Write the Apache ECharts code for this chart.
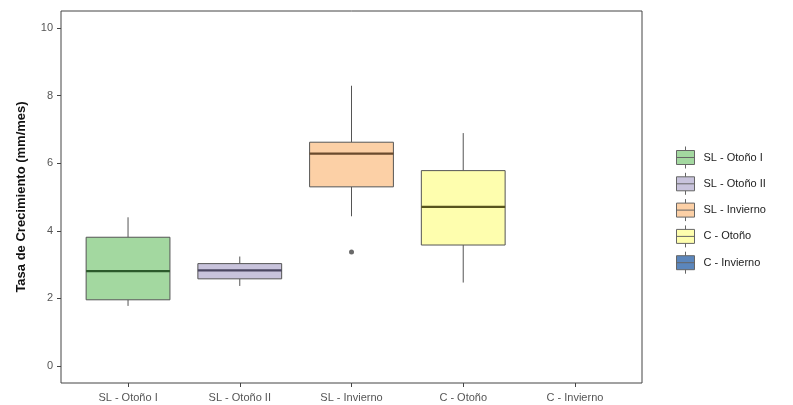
<!DOCTYPE html>
<html><head><meta charset="utf-8">
<script src="https://cdn.jsdelivr.net/npm/echarts@6/dist/echarts.min.js"></script>
<style>html,body{margin:0;padding:0;background:#fff}#c{width:793px;height:405px}</style>
</head><body><div id="c"></div>
<script>
const categories = ['SL - Otoño I', 'SL - Otoño II', 'SL - Invierno', 'C - Otoño', 'C - Invierno'];
// [min whisker, Q1, median, Q3, max whisker] per category (null = no data)
const boxStats = [
  [1.78, 1.96, 2.81, 3.81, 4.40],
  [2.37, 2.58, 2.83, 3.03, 3.24],
  [4.43, 5.30, 6.28, 6.62, 8.29],
  [2.47, 3.58, 4.71, 5.78, 6.89],
  null
];
// outliers: [category index, value]
const outliers = [[2, 3.37]];
const yTicks = [0, 2, 4, 6, 8, 10];
const fillColors = ['#a3d8a0', '#c8c3dc', '#fcd0a6', '#fefeae', '#5b86bc'];
const medianColors = ['#2c5a2c', '#4a4660', '#6a4a2c', '#57541e', '#1e3a60'];

const chart = echarts.init(document.getElementById('c'), null, {renderer: 'canvas'});

function makeRender(idx) {
  return function (params, api) {
    const x = api.value(0), lo = api.value(1), q1 = api.value(2), med = api.value(3), q3 = api.value(4), hi = api.value(5);
    const half = 0.375;
    const tl = api.coord([x - half, q3]);
    const br = api.coord([x + half, q1]);
    const cHi = api.coord([x, hi]), cQ3 = api.coord([x, q3]), cQ1 = api.coord([x, q1]), cLo = api.coord([x, lo]);
    const mL = api.coord([x - half, med]), mR = api.coord([x + half, med]);
    const stroke = '#555';
    return {
      type: 'group',
      children: [
        {type: 'line', shape: {x1: cHi[0], y1: cHi[1], x2: cQ3[0], y2: cQ3[1]}, style: {stroke: stroke, lineWidth: 1}},
        {type: 'line', shape: {x1: cQ1[0], y1: cQ1[1], x2: cLo[0], y2: cLo[1]}, style: {stroke: stroke, lineWidth: 1}},
        {type: 'rect', shape: {x: tl[0], y: tl[1], width: br[0] - tl[0], height: br[1] - tl[1]},
          style: {fill: fillColors[idx], stroke: stroke, lineWidth: 1}},
        {type: 'line', shape: {x1: mL[0], y1: mL[1], x2: mR[0], y2: mR[1]}, style: {stroke: medianColors[idx], lineWidth: 2.2}}
      ]
    };
  };
}

const series = categories.map(function (name, i) {
  const s = boxStats[i];
  return {
    name: name,
    type: 'custom',
    renderItem: makeRender(i),
    itemStyle: {color: fillColors[i], borderColor: '#666', borderWidth: 1},
    encode: {x: 0, y: [1, 5]},
    data: s ? [[i + 1].concat(s)] : []
  };
});
series.push({
  name: 'outliers',
  type: 'scatter',
  symbol: 'circle',
  symbolSize: 5,
  itemStyle: {color: '#444'},
  data: outliers.map(function (o) { return [o[0] + 1, o[1]]; }),
  z: 5
});

const legendIcon = 'path://M10,0 L10,4 M1,4 L19,4 L19,18 L1,18 Z M1,11 L19,11 M10,18 L10,22';

chart.setOption({
  animation: false,
  backgroundColor: '#fff',
  grid: {left: 61, top: 11, width: 581, height: 372, show: true, borderColor: '#444', borderWidth: 1, backgroundColor: 'transparent'},
  legend: {
    data: categories,
    orient: 'vertical',
    left: 671,
    top: 141,
    icon: legendIcon,
    itemWidth: 22,
    itemHeight: 22,
    itemGap: 3.3,
    selectedMode: false,
    itemStyle: {borderColor: '#666', borderWidth: 1},
    textStyle: {fontFamily: 'Liberation Sans, Arial, sans-serif', fontSize: 11, color: '#222', padding: [0, 0, 0, 2], lineHeight: 14}
  },
  xAxis: {
    type: 'value', min: 0.4, max: 5.6,
    axisLine: {show: false, onZero: false},
    splitLine: {show: false},
    axisTick: {show: true, length: 4, customValues: [1, 2, 3, 4, 5], lineStyle: {color: '#444'}},
    axisLabel: {
      customValues: [1, 2, 3, 4, 5], margin: 9,
      formatter: function (v) { return categories[Math.round(v) - 1] || ''; },
      fontFamily: 'Liberation Sans, Arial, sans-serif', fontSize: 11, color: '#555'
    }
  },
  yAxis: {
    type: 'value', min: -0.5, max: 10.5,
    name: 'Tasa de Crecimiento (mm/mes)',
    nameLocation: 'middle', nameGap: 33,
    nameTextStyle: {fontFamily: 'Liberation Sans, Arial, sans-serif', fontSize: 13, fontWeight: 'bold', color: '#111'},
    axisLine: {show: false, onZero: false},
    splitLine: {show: false},
    axisTick: {show: true, length: 4, customValues: yTicks, lineStyle: {color: '#444'}},
    axisLabel: {customValues: yTicks, margin: 8, fontFamily: 'Liberation Sans, Arial, sans-serif', fontSize: 11, color: '#555'}
  },
  series: series
});
</script></body></html>
